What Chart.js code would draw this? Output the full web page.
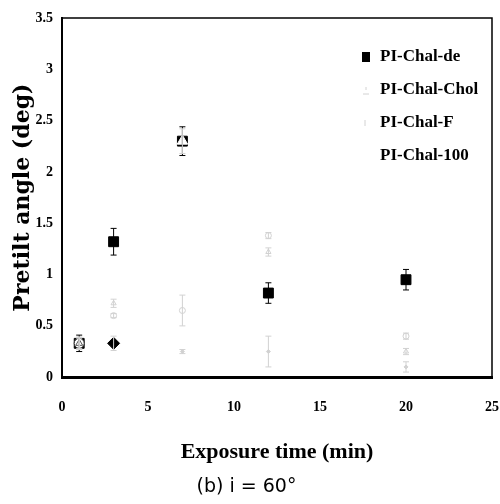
<!DOCTYPE html>
<html>
<head>
<meta charset="utf-8">
<script src="https://cdn.jsdelivr.net/npm/chart.js@4.4.1/dist/chart.umd.min.js"></script>
<style>
  html, body { margin: 0; padding: 0; background: #fff; }
  #wrap { width: 500px; height: 504px; }
</style>
</head>
<body>
<div id="wrap"><canvas id="c" width="500" height="504"></canvas></div>
<script>
// ---- data ----
const times = [1, 3, 7, 12, 20];
const xTicks = [0, 5, 10, 15, 20, 25];
const yTicks = [0, 0.5, 1, 1.5, 2, 2.5, 3, 3.5];
const seriesNames = ['PI-Chal-de', 'PI-Chal-Chol', 'PI-Chal-F', 'PI-Chal-100'];
const chalDe = [0.33, 1.32, 2.30, 0.82, 0.95];
const chalDeErr = [0.08, 0.13, 0.14, 0.10, 0.10];
const chalChol = [0.33, 0.72, 2.30, 1.22, 0.25];
const chalCholErr = [0.06, 0.04, 0.12, 0.04, 0.03];
const chalF = [0.33, 0.60, 0.65, 1.38, 0.40];
const chalFErr = [0.05, 0.02, 0.15, 0.03, 0.03];
const chal100 = [0.33, 0.33, 0.25, 0.25, 0.10];
const chal100Err = [0.06, 0.07, 0.02, 0.15, 0.05];
const xTitle = 'Exposure time (min)';
const yTitle = 'Pretilt angle (deg)';
const caption = '(b) i = 60°';

const pts = (ys) => times.map((t, i) => ({ x: t, y: ys[i] }));
const faint = '#d2d2d2';

const errorBars = {
  id: 'errorBars',
  afterDatasetsDraw(chart) {
    const { ctx, scales: { x, y } } = chart;
    ctx.save();
    chart.data.datasets.forEach((ds) => {
      if (!ds.errors) return;
      ctx.strokeStyle = ds.errColor;
      ctx.lineWidth = 1;
      ds.data.forEach((p, i) => {
        const e = ds.errors[i];
        const px = x.getPixelForValue(p.x);
        const top = y.getPixelForValue(p.y + e);
        const bot = y.getPixelForValue(p.y - e);
        ctx.beginPath();
        ctx.moveTo(px, top); ctx.lineTo(px, bot);
        ctx.moveTo(px - 3, top); ctx.lineTo(px + 3, top);
        ctx.moveTo(px - 3, bot); ctx.lineTo(px + 3, bot);
        ctx.stroke();
      });
    });
    ctx.restore();
  }
};

const frame = {
  id: 'frame',
  afterDraw(chart) {
    const { ctx, chartArea: a } = chart;
    ctx.save();
    ctx.strokeStyle = '#000';
    ctx.lineWidth = 1.5;
    ctx.beginPath();
    ctx.moveTo(a.left, a.top); ctx.lineTo(a.right, a.top); ctx.lineTo(a.right, a.bottom);
    ctx.stroke();
    ctx.restore();
  }
};

const legendBox = {
  id: 'legendBox',
  afterDraw(chart) {
    const { ctx, chartArea: a } = chart;
    ctx.save();
    ctx.font = 'bold 17px "Liberation Serif", "Times New Roman", serif';
    ctx.textBaseline = 'middle';
    chart.data.datasets.forEach((ds, i) => {
      const mx = a.right - 126;
      const my = a.top + 39 + i * 33;
      if (i === 0) {
        ctx.fillStyle = '#000';
        ctx.fillRect(mx - 4, my - 5, 8, 10);
      } else if (i === 1) {
        ctx.strokeStyle = faint;
        ctx.beginPath();
        ctx.moveTo(mx - 3, my + 4); ctx.lineTo(mx + 3, my + 4);
        ctx.moveTo(mx, my - 3); ctx.lineTo(mx, my);
        ctx.stroke();
      } else if (i === 2) {
        ctx.strokeStyle = faint;
        ctx.beginPath();
        ctx.moveTo(mx - 1, my - 3); ctx.lineTo(mx - 1, my + 3);
        ctx.stroke();
      }
      ctx.fillStyle = '#000';
      ctx.fillText(ds.label, a.right - 112, my);
    });
    ctx.restore();
  }
};

const tickGrid = (len) => ({ display: true, drawOnChartArea: false, drawTicks: true, tickLength: len, color: 'rgba(0,0,0,0)' });

new Chart(document.getElementById('c'), {
  type: 'scatter',
  data: {
    datasets: [
      { label: seriesNames[0], data: pts(chalDe), errors: chalDeErr, errColor: '#000',
        pointStyle: 'rect', pointRadius: 7, pointBackgroundColor: '#000', pointBorderColor: '#000', order: 3 },
      { label: seriesNames[1], data: pts(chalChol), errors: chalCholErr, errColor: faint,
        pointStyle: 'triangle', pointRadius: [4, 3, 6, 3, 3], pointBackgroundColor: '#fff', pointBorderColor: [ '#555', faint, '#fff', faint, faint ], order: 0 },
      { label: seriesNames[2], data: pts(chalF), errors: chalFErr, errColor: faint,
        pointStyle: 'circle', pointRadius: [5, 3, 3, 3, 3], pointBackgroundColor: '#fff', pointBorderColor: ['#333', faint, faint, faint, faint], order: 1 },
      { label: seriesNames[3], data: pts(chal100), errors: chal100Err, errColor: faint,
        pointStyle: 'rectRot', pointRadius: [2, 6, 2, 2, 2], pointBackgroundColor: ['#fff', '#000', faint, faint, faint], pointBorderColor: ['#fff', '#000', faint, faint, faint], order: 2 }
    ]
  },
  options: {
    responsive: false,
    animation: false,
    events: [],
    layout: { padding: { top: 18, right: 7, bottom: 0, left: 0 } },
    plugins: {
      legend: { display: false },
      tooltip: { enabled: false },
      title: {
        display: true, position: 'bottom', text: caption,
        font: { family: '"DejaVu Sans", sans-serif', size: 19, weight: 'normal' },
        color: '#000', padding: { top: 4, bottom: 6 }
      }
    },
    scales: {
      x: {
        type: 'linear', min: 0, max: 25,
        afterBuildTicks: (s) => { s.ticks = xTicks.map(v => ({ value: v })); },
        afterFit: (s) => { s.height = 94; },
        grid: tickGrid(22),
        border: { display: true, color: '#000', width: 3 },
        ticks: { color: '#000', padding: 0, callback: (v) => String(v),
          font: { family: '"Liberation Serif", serif', size: 14, weight: 'bold' } },
        title: { display: true, text: xTitle, color: '#000', padding: { top: 0, bottom: 6 },
          font: { family: '"Liberation Serif", serif', size: 22, weight: 'bold' } }
      },
      y: {
        type: 'linear', min: 0, max: 3.5,
        afterBuildTicks: (s) => { s.ticks = yTicks.map(v => ({ value: v })); },
        afterFit: (s) => { s.width = 62; },
        grid: tickGrid(9),
        border: { display: true, color: '#000', width: 2 },
        ticks: { color: '#000', padding: 0, callback: (v) => String(v),
          font: { family: '"Liberation Serif", serif', size: 14, weight: 'bold' } },
        title: { display: true, text: yTitle, color: '#000', padding: { top: 10, bottom: 0 },
          font: { family: '"DejaVu Serif", serif', size: 22, weight: 'bold' } }
      }
    }
  },
  plugins: [errorBars, frame, legendBox]
});
</script>
</body>
</html>
